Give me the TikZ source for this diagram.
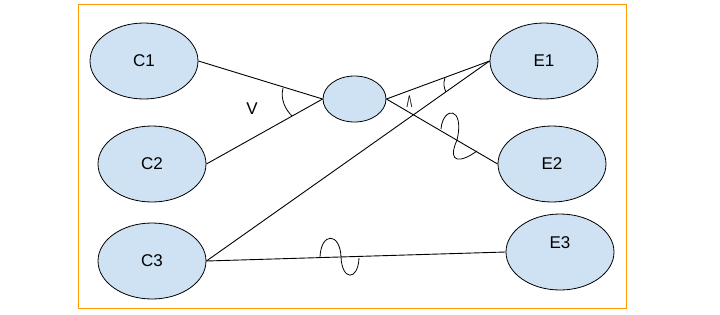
\documentclass[tikz,border=0pt]{standalone}
\usepackage{fontspec}
\setmainfont{Liberation Sans}
\usetikzlibrary{shapes.geometric}
\definecolor{fillblue}{HTML}{CFE2F3}
\definecolor{frameorange}{HTML}{FF9900}
\begin{document}
\begin{tikzpicture}[x=1pt,y=-1pt,
  ent/.style={ellipse,draw=black,line width=0.8pt,fill=fillblue,minimum width=108pt,minimum height=76pt,inner sep=0pt,font=\fontsize{17}{20}\selectfont},
  conn/.style={draw=black,line width=0.9pt},
  tickmark/.style={draw=black,line width=0.8pt},
  lbl/.style={font=\fontsize{17}{20}\selectfont,inner sep=0pt}]
\useasboundingbox (0,0) rectangle (720,314);
\draw[frameorange,line width=1pt] (78.5,4.5) rectangle (626,308);
\node[ent] (C1) at (144,61) {C1};
\node[ent] (C2) at (152,164) {C2};
\node[ent] (C3) at (152,261) {C3};
\node[ent] (E1) at (544,61) {E1};
\node[ent] (E2) at (552,164) {E2};
\node[ent,label={[lbl,yshift=9pt]center:E3}] (E3) at (560,252) {};
\node[ellipse,draw=black,line width=0.8pt,fill=fillblue,minimum width=63pt,minimum height=46pt,inner sep=0pt] (M) at (354.5,99) {};
\draw[conn] (C1.east) -- (M.west);
\draw[conn] (C2.east) -- (M.west);
\draw[conn] (M.east) -- (E1.west);
\draw[conn] (M.east) -- (E2.west);
\draw[conn] (C3.east) -- (E1.west);
\draw[conn] (C3.east) -- (E3.west);
\node[lbl] (v) at (252,109) {V};
\node[lbl] (w) at (409.5,102) {\scalebox{0.5}[1]{Λ}};
\draw[tickmark] (283,88) .. controls (280,100) and (286,110) .. (292,116);
\draw[tickmark] (445,78) .. controls (443,83) and (444,88) .. (446,92);
\draw[tickmark] (320,257) .. controls (321,232) and (340,232) .. (341,257) .. controls (342,281) and (358,281) .. (359,258);
\draw[tickmark] (441,129) .. controls (443,106) and (465,106) .. (457,140) .. controls (446,165) and (462,162) .. (477,151);
\end{tikzpicture}
\end{document}
